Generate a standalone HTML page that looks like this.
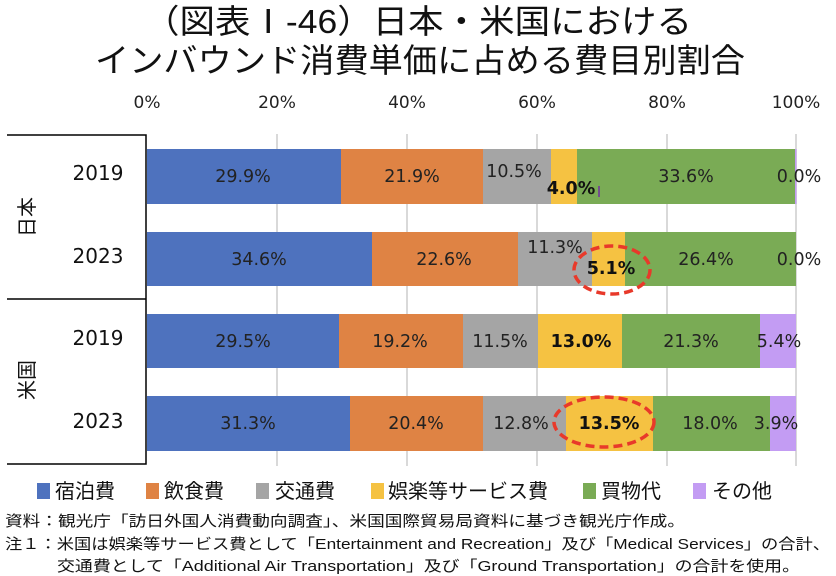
<!DOCTYPE html>
<html><head><meta charset="utf-8"><style>
html,body{margin:0;padding:0;background:#fff;width:836px;height:576px;overflow:hidden}
svg{display:block}
</style></head><body>
<svg width="836" height="576" xmlns="http://www.w3.org/2000/svg" font-family="'Liberation Sans','Noto Sans CJK JP',sans-serif">
<g font-size="33" fill="#111" text-anchor="middle">
<text x="418" y="33" textLength="548" lengthAdjust="spacingAndGlyphs">（図表Ⅰ-46）日本・米国における</text>
<text x="420" y="72" textLength="650" lengthAdjust="spacingAndGlyphs">インバウンド消費単価に占める費目別割合</text>
</g>
<g font-family="'DejaVu Sans',sans-serif" font-size="17" fill="#222" text-anchor="middle">
<text x="147" y="108">0%</text><text x="277" y="108">20%</text><text x="407" y="108">40%</text>
<text x="537" y="108">60%</text><text x="667" y="108">80%</text><text x="796" y="108">100%</text>
</g>
<g stroke="#d9d9d9" stroke-width="2">
<line x1="277" y1="134" x2="277" y2="466"/><line x1="407" y1="134" x2="407" y2="466"/>
<line x1="537" y1="134" x2="537" y2="466"/><line x1="667" y1="134" x2="667" y2="466"/>
<line x1="796" y1="134" x2="796" y2="466"/>
</g>
<g stroke="#000" stroke-width="1.5" fill="none">
<polyline points="7,135 146,135 146,464 7,464"/>
<line x1="7" y1="299" x2="146" y2="299"/>
</g>
<g font-family="'DejaVu Sans',sans-serif" font-size="20" fill="#111" text-anchor="middle">
<text x="98" y="180">2019</text><text x="98" y="263">2023</text>
<text x="98" y="345">2019</text><text x="98" y="428">2023</text>
</g>
<g font-size="20" fill="#111" text-anchor="middle">
<text x="0" y="0" transform="translate(34,217) rotate(-90)">日本</text>
<text x="0" y="0" transform="translate(34,380) rotate(-90)">米国</text>
</g>
<!-- row1 -->
<rect x="147" y="149" width="194" height="55" fill="#4e72be"/>
<rect x="341" y="149" width="142" height="55" fill="#df8344"/>
<rect x="483" y="149" width="68" height="55" fill="#a5a5a5"/>
<rect x="551" y="149" width="26" height="55" fill="#f5c242"/>
<rect x="577" y="149" width="218" height="55" fill="#7aab55"/>
<rect x="795" y="149" width="1.5" height="55" fill="#c39cf3"/>
<!-- row2 -->
<rect x="147" y="232" width="225" height="54" fill="#4e72be"/>
<rect x="372" y="232" width="146" height="54" fill="#df8344"/>
<rect x="518" y="232" width="74" height="54" fill="#a5a5a5"/>
<rect x="592" y="232" width="33" height="54" fill="#f5c242"/>
<rect x="625" y="232" width="171" height="54" fill="#7aab55"/>
<!-- row3 -->
<rect x="147" y="314" width="192" height="54" fill="#4e72be"/>
<rect x="339" y="314" width="124" height="54" fill="#df8344"/>
<rect x="463" y="314" width="75" height="54" fill="#a5a5a5"/>
<rect x="538" y="314" width="84" height="54" fill="#f5c242"/>
<rect x="622" y="314" width="138" height="54" fill="#7aab55"/>
<rect x="760" y="314" width="36" height="54" fill="#c39cf3"/>
<!-- row4 -->
<rect x="147" y="396" width="203" height="55" fill="#4e72be"/>
<rect x="350" y="396" width="133" height="55" fill="#df8344"/>
<rect x="483" y="396" width="83" height="55" fill="#a5a5a5"/>
<rect x="566" y="396" width="87" height="55" fill="#f5c242"/>
<rect x="653" y="396" width="117" height="55" fill="#7aab55"/>
<rect x="770" y="396" width="26" height="55" fill="#c39cf3"/>
<g font-family="'DejaVu Sans',sans-serif" font-size="17.5" fill="#222" text-anchor="middle">
<text x="243" y="182">29.9%</text><text x="412" y="182">21.9%</text><text x="514" y="177">10.5%</text>
<text x="686" y="182">33.6%</text><text x="799" y="182">0.0%</text>
<text x="259" y="265">34.6%</text><text x="444" y="265">22.6%</text><text x="555" y="253">11.3%</text>
<text x="706" y="265">26.4%</text><text x="799" y="265">0.0%</text>
<text x="243" y="347">29.5%</text><text x="400" y="347">19.2%</text><text x="500" y="347">11.5%</text>
<text x="691" y="347">21.3%</text><text x="779" y="347">5.4%</text>
<text x="248" y="429">31.3%</text><text x="416" y="429">20.4%</text><text x="521" y="429">12.8%</text>
<text x="710" y="429">18.0%</text><text x="776" y="429">3.9%</text>
</g>
<g font-family="'DejaVu Sans',sans-serif" font-size="17.5" font-weight="bold" fill="#111" text-anchor="middle">
<text x="571" y="194">4.0%</text><text x="611" y="274">5.1%</text>
<text x="581" y="347">13.0%</text><text x="609" y="429">13.5%</text>
</g>
<line x1="599" y1="186" x2="599" y2="197" stroke="#7030a0" stroke-width="1.5"/>
<g fill="none" stroke="#e8392a" stroke-width="3.5" stroke-dasharray="9,5">
<ellipse cx="612" cy="270" rx="38" ry="24"/>
<ellipse cx="604" cy="422" rx="50" ry="25"/>
</g>
<g font-size="20" fill="#111">
<rect x="37" y="483" width="13" height="16" fill="#4e72be"/><text x="55" y="498">宿泊費</text>
<rect x="146" y="483" width="13" height="16" fill="#df8344"/><text x="164" y="498">飲食費</text>
<rect x="256" y="483" width="13" height="16" fill="#a5a5a5"/><text x="275" y="498">交通費</text>
<rect x="371" y="483" width="13" height="16" fill="#f5c242"/><text x="388" y="498">娯楽等サービス費</text>
<rect x="583" y="483" width="13" height="16" fill="#7aab55"/><text x="601" y="498">買物代</text>
<rect x="693" y="483" width="13" height="16" fill="#c39cf3"/><text x="712" y="498">その他</text>
</g>
<g font-size="15" fill="#111">
<text x="5" y="526" textLength="680" lengthAdjust="spacingAndGlyphs">資料：観光庁「訪日外国人消費動向調査」、米国国際貿易局資料に基づき観光庁作成。</text>
<text x="5" y="549" textLength="825" lengthAdjust="spacingAndGlyphs">注１：米国は娯楽等サービス費として「Entertainment and Recreation」及び「Medical Services」の合計、</text>
<text x="57" y="571" textLength="743" lengthAdjust="spacingAndGlyphs">交通費として「Additional Air Transportation」及び「Ground Transportation」の合計を使用。</text>
</g>
</svg>
</body></html>
